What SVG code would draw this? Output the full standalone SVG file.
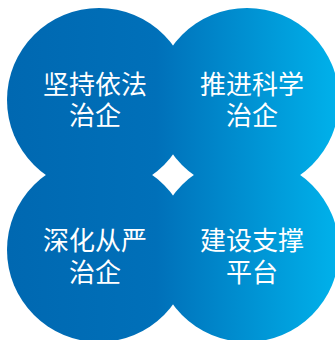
<svg xmlns="http://www.w3.org/2000/svg" width="335" height="340" viewBox="0 0 335 340">
<defs>
<linearGradient id="g" gradientUnits="userSpaceOnUse" x1="7" y1="0" x2="339" y2="0">
<stop offset="0" stop-color="#0068b1"/>
<stop offset="0.45" stop-color="#0070b9"/>
<stop offset="1" stop-color="#00b2eb"/>
</linearGradient>
<style>
.c{fill:url(#g);}
.t{fill:#ffffff;font-family:"Noto Sans CJK SC","Noto Sans",sans-serif;font-size:26px;text-anchor:middle;dominant-baseline:central;}
</style>
</defs>
<rect width="335" height="340" fill="#ffffff"/>
<g id="node-tl"><circle class="c" cx="99" cy="100" r="92"/></g>
<g id="node-tr"><circle class="c" cx="247" cy="100" r="92"/></g>
<g id="node-bl"><circle class="c" cx="99" cy="250" r="92"/></g>
<g id="node-br"><circle class="c" cx="247" cy="250" r="92"/></g>
<g id="labels">
<g id="label-tl"><text class="t" x="95" y="82">坚持依法</text><text class="t" x="95" y="113">治企</text></g>
<g id="label-tr"><text class="t" x="252" y="82">推进科学</text><text class="t" x="252" y="113">治企</text></g>
<g id="label-bl"><text class="t" x="95" y="238">深化从严</text><text class="t" x="95" y="270">治企</text></g>
<g id="label-br"><text class="t" x="252" y="238">建设支撑</text><text class="t" x="252" y="270">平台</text></g>
</g>
</svg>
